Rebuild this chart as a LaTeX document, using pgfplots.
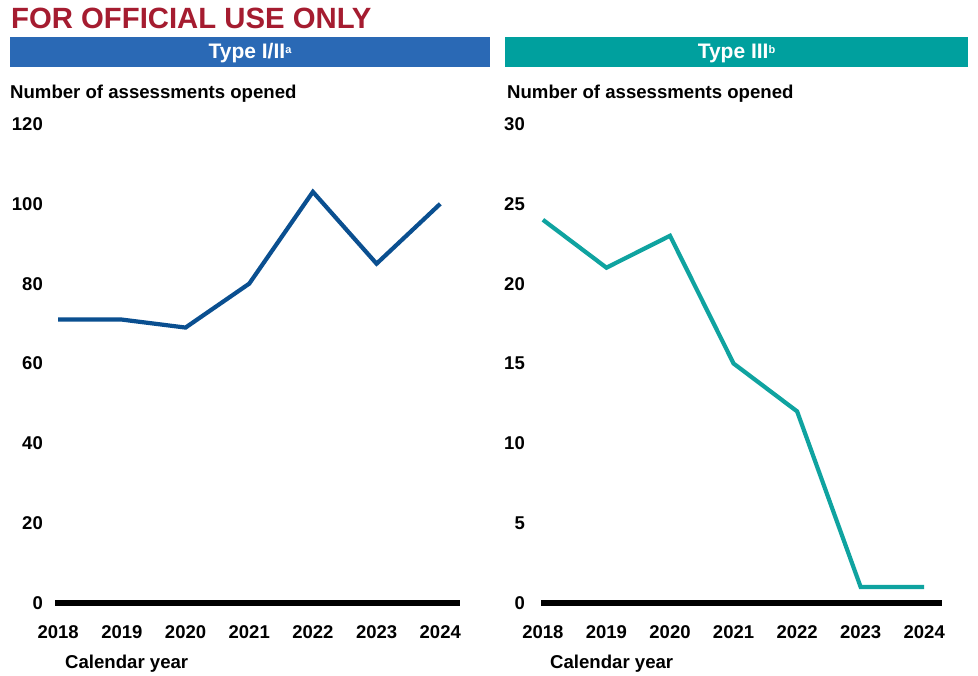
\documentclass[border=0pt]{standalone}
\usepackage{pgfplots}
\pgfplotsset{compat=1.18}
\usepackage{fontspec}
\setmainfont{Liberation Sans}
\definecolor{offred}{HTML}{A51C30}
\definecolor{hdrblue}{HTML}{2A69B5}
\definecolor{hdrteal}{HTML}{00A09E}
\definecolor{lineblue}{HTML}{0A4F90}
\definecolor{lineteal}{HTML}{0FA3A0}
\newcommand{\fs}[1]{\fontsize{#1}{#1}\selectfont}
\newcommand{\hdrsup}[1]{\raisebox{5pt}{\fs{11}#1}}
\begin{document}
\begin{tikzpicture}[x=1pt,y=1pt]
\path[use as bounding box, fill=white] (0,0) rectangle (978,676);
\node[anchor=base west, inner sep=0, text=offred, font=\bfseries\fs{29.3}] at (11,647) {FOR OFFICIAL USE ONLY};
\fill[hdrblue] (10,609) rectangle (490,639);
\node[text=white, font=\bfseries\fs{21}, inner sep=0, anchor=base] at (250,617) {Type I/II\hdrsup{a}};
\fill[hdrteal] (505,609) rectangle (968,639);
\node[text=white, font=\bfseries\fs{21}, inner sep=0, anchor=base] at (736.5,617) {Type III\hdrsup{b}};
\node[anchor=base west, inner sep=0, font=\bfseries\fs{18.6}] at (10,577) {Number of assessments opened};
\node[anchor=base west, inner sep=0, font=\bfseries\fs{18.6}] at (507,577) {Number of assessments opened};
\node[anchor=base west, inner sep=0, font=\bfseries\fs{18.6}] at (65,7) {Calendar year};
\node[anchor=base west, inner sep=0, font=\bfseries\fs{18.6}] at (550,7) {Calendar year};
\pgfplotsset{
  panel/.style={
    scale only axis,
    anchor=south west,
    height=479pt,
    ymin=0,
    axis x line=bottom,
    axis y line=left,
    x axis line style={line width=5.5pt, -},
    y axis line style={draw=none},
    major tick length=0pt,
    xtick={2018,2019,2020,2021,2022,2023,2024},
    xticklabels={2018,2019,2020,2021,2022,2023,2024},
    xticklabel style={font=\bfseries\fs{18.5}, anchor=base, inner sep=0pt, yshift=-36pt},
    yticklabel style={font=\bfseries\fs{18.5}, anchor=east, inner sep=0pt},
    /pgf/number format/assume math mode=true,
    clip=false,
  }
}
\begin{axis}[panel, at={(55pt,73pt)}, width=405pt,
  xmin=2017.95, xmax=2024.31, ymax=120,
  ytick={0,20,40,60,80,100,120},
  yticklabel style={xshift=-12pt}]
\addplot[lineblue, line width=4.2pt, line join=miter] coordinates {
(2018,71) (2019,71) (2020,69) (2021,80) (2022,103) (2023,85) (2024,100)};
\end{axis}
\begin{axis}[panel, at={(541pt,73pt)}, width=401pt,
  xmin=2017.97, xmax=2024.28, ymax=30,
  ytick={0,5,10,15,20,25,30},
  yticklabel style={xshift=-16pt}]
\addplot[lineteal, line width=4.2pt, line join=miter] coordinates {
(2018,24) (2019,21) (2020,23) (2021,15) (2022,12) (2023,1) (2024,1)};
\end{axis}
\end{tikzpicture}
\end{document}
